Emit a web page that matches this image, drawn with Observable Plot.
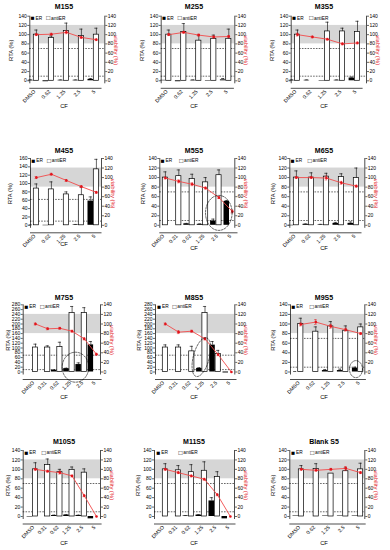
<!DOCTYPE html>
<html>
<head>
<meta charset="utf-8">
<script src="https://cdn.jsdelivr.net/npm/d3@7"></script>
<script src="https://cdn.jsdelivr.net/npm/@observablehq/plot@0.6"></script>
<style>
html,body{margin:0;padding:0;background:#fff;}
#fig{position:relative;width:390px;height:550px;overflow:hidden;background:#fff;}
.cell{position:absolute;width:130px;}
.cell svg{display:block;}
</style>
</head>
<body>
<div id="fig"></div>
<script>
// ---------------- data ----------------
const panelTitles = ["M1S5","M2S5","M3S5","M4S5","M5S5","M6S5","M7S5","M8S5","M9S5","M10S5","M11S5","Blank S5"];
const catsA = ["DMSO","0.62","1.25","2.5","5"];
const catsB = ["DMSO","0.31","0.62","1.25","2.5","5"];
const panelCats = [catsA,catsA,catsA,catsA,catsB,catsA,catsB,catsB,catsA,catsB,catsB,catsA];
const rtaMax = [140,140,140,160,140,140,280,280,140,140,140,140];
const viabilityTicks = [0,20,40,60,80,100,120,140];
const refBand = [80,120];            // viability (%) reference band
const cutoffs = [[70,10],[70,10],[70,10],[62,10],[70,10],[70,10],[70,10],[70,10],[70,10],[70,10],[70,10],[70,10]];

const antiER = [
 [100,93,108,97,100],
 [100,106,87,91,91],
 [100,null,107,107,106],
 [88,86,74,72,134],
 [100,103,97,90,105,null],
 [100,100,102,101,99],
 [102,102,104,246,246,null],
 [102,102,86,246,75,null],
 [100,84,95,86,93],
 [100,109,94,99,93,null],
 [100,98,94,97,84,null],
 [100,101,91,96,100]
];
const antiERErr = [
 [10,4,17,15,14],
 [10,18,12,8,21],
 [10,null,20,7,23],
 [11,18,6,20,24],
 [12,13,10,10,11,null],
 [14,10,7,7,21],
 [14,7,20,27,22,null],
 [11,11,21,27,15,null],
 [12,10,10,10,7],
 [14,13,6,6,8,null],
 [12,10,16,19,11,null],
 [8,11,0,7,13]
];
const ER = [
 [1,-2,1,1,3],
 [1,-2,1,-1,2],
 [1,1,-1,1,6],
 [0,-1,0,1,58],
 [0,0,3,2,9,50],
 [-1,2,1,4,4],
 [0,0,7,14,31,113],
 [0,0,0,15,112,-4],
 [0,0,3,3,8],
 [-1,0,2,3,2,-5],
 [0,0,1,3,33,-5],
 [1,0,1,1,1]
];
const ERErr = [
 [1,1,1,1,2],
 [0,1,1,1,3],
 [1,1,0,1,2],
 [1,0,0,1,10],
 [0,0,1,1,4,2],
 [0,1,1,2,3],
 [0,0,2,2,7,14],
 [0,0,0,3,15,0],
 [1,0,2,3,2],
 [0,0,1,1,1,0],
 [0,0,1,1,7,0],
 [0,0,0,0,0]
];
const viability = [
 [100,101,105,94,89],
 [100,105,99,95,96],
 [100,95,90,80,82],
 [100,107,94,81,69],
 [99,92,86,78,58,29],
 [100,100,99,89,82],
 [100,90,91,85,69,37],
 [100,83,85,69,36,0],
 [99,104,95,88,80],
 [100,96,93,86,44,0],
 [100,93,86,79,46,0],
 [100,98,100,102,93]
];
const viabilityErr = [
 [2,2,3,2,2],
 [2,2,2,2,2],
 [3,2,2,2,2],
 [2,2,2,2,2],
 [2,3,3,2,2,3],
 [2,2,4,3,2],
 [2,2,2,2,2,2],
 [2,3,2,2,2,0],
 [3,5,4,3,2],
 [2,2,3,2,2,0],
 [2,2,2,2,2,0],
 [2,2,2,4,2]
];

// ---------------- layout ----------------
const rowsGeo = [
 {svgTop:0,   top:15.7,  zero:80.3,  title:6.5,   cf:106},
 {svgTop:138, top:158,   zero:224.8, title:150.5, cf:248},
 {svgTop:285, top:304.3, zero:371.5, title:297.7, cf:397},
 {svgTop:430, top:450,   zero:516,   title:441.7, cf:543}
];
const layout = [
 {row:0,col:0,left:29.3, right:104.3,off:4,  s:15,  leg:[3,18.5], rta:-19},
 {row:0,col:1,left:160.7,right:234.3,off:5,  s:15,  leg:[3,18.5], rta:-19},
 {row:0,col:2,left:290.7,right:366,  off:3.7,s:15,  leg:[3,20],   rta:-19},
 {row:1,col:0,left:30,   right:101,  off:3.3,s:15,  leg:[3,18.5], rta:-20, cf:244},
 {row:1,col:1,left:159.3,right:234.3,off:3,  s:13.4,leg:[3,21.5], rta:-17},
 {row:1,col:2,left:289.3,right:364.3,off:4,  s:15,  leg:[3,20],   rta:-17},
 {row:2,col:0,left:22.7, right:100,  off:9.7,s:12.2,leg:[3.3,19],  rta:-15.5},
 {row:2,col:1,left:155,  right:234.3,off:7.3,s:13.2,leg:[3.7,19],  rta:-16.7},
 {row:2,col:2,left:290,  right:364.3,off:7.7,s:15,  leg:[3,21.3], rta:-17},
 {row:3,col:0,left:22.7, right:100,  off:9.7,s:12.2,leg:[3.3,20.6],rta:-15.5},
 {row:3,col:1,left:154,  right:234,  off:8.3,s:13,  leg:[4,26],   rta:-16},
 {row:3,col:2,left:289.3,right:364.3,off:9,  s:14.8,leg:[3.4,22.5],rta:-17}
];
// dashed ellipse annotations (center in category index / RTA units, radii in px)
const circled = [
 {panel:4, x:4.18, y:26, rx:13.3, ry:17.5, angle:0},
 {panel:6, x:3.49, y:20, rx:13.3, ry:15,   angle:0},
 {panel:7, x:2.92, y:62, rx:8,    ry:20,   angle:15},
 {panel:8, x:3.85, y:6,  rx:6.5,  ry:8.5,  angle:0}
];

const RED_LINE = "#f24b4b", RED_PT = "#e3141b", GREY = "#d6d6d6";
const FONT = "'Liberation Sans', Arial, Helvetica, sans-serif";

function ellipsePts(e, s, u) {
  const pts = [], a = e.angle*Math.PI/180;
  for (let t = 0; t <= 360; t += 6) {
    const r = t*Math.PI/180;
    const ex = e.rx*Math.cos(r), ey = e.ry*Math.sin(r);
    const X = ex*Math.cos(a) - ey*Math.sin(a), Y = ex*Math.sin(a) + ey*Math.cos(a);
    pts.push({x: e.x + X/s, y: e.y - Y*u});
  }
  return pts;
}

function panel(p) {
  const L = layout[p], R = rowsGeo[L.row];
  const cats = panelCats[p], n = cats.length;
  const yMax = rtaMax[p], k = yMax/140;
  const H = R.zero - R.top, u = yMax/H;
  const xAxisY = R.zero + 7.5, yMin = -7.5*u;
  const px = L.col*130;
  const cfY = L.cf ?? R.cf;
  const svgH = R.cf + 6 - R.svgTop;
  const mL = L.left - px, mR = px + 130 - L.right;
  const mT = R.top - R.svgTop, mB = svgH - (xAxisY - R.svgTop);
  const xmin = -L.off/L.s, xmax = (L.right - L.left - L.off)/L.s;
  const wE = 5.5/L.s, wA = 5.2/L.s, g = 0.3/L.s, cap = 1.6/L.s;
  const rta = d3.range(0, yMax+1, 20);
  const data = cats.map((c,i)=>({i, cat:c, er:ER[p][i], erErr:ERErr[p][i], anti:antiER[p][i], antiErr:antiERErr[p][i], via:viability[p][i], viaErr:viabilityErr[p][i]}));
  const antiD = data.filter(d=>d.anti!=null);
  const antiE = antiD.filter(d=>d.antiErr>0);
  const erD = data.filter(d=>d.er!=null);
  const erE = erD.filter(d=>d.erErr>0 && d.er>=0);
  const viaD = data.filter(d=>d.via!=null);
  const viaE = viaD.filter(d=>d.viaErr>0);
  const ax = d=>d.i + wA/2;
  const marks = [
    Plot.rect([refBand], {x1:()=>xmin, x2:()=>xmax, y1:d=>d[0]*k, y2:d=>d[1]*k, fill:GREY}),
    Plot.ruleY(cutoffs[p], {stroke:"#000", strokeWidth:0.6, strokeDasharray:"1.6,1.2"}),
    Plot.rect(erD, {x1:d=>d.i-g-wE, x2:d=>d.i-g, y1:()=>0, y2:d=>d.er, fill:"#000"}),
    Plot.rect(antiD, {x1:d=>d.i, x2:d=>d.i+wA, y1:()=>0, y2:d=>d.anti, fill:"#fff", stroke:"#000", strokeWidth:0.7}),
    Plot.ruleX(antiE, {x:ax, y1:d=>d.anti, y2:d=>d.anti+d.antiErr, stroke:"#000", strokeWidth:0.6}),
    Plot.ruleY(antiE, {y:d=>d.anti+d.antiErr, x1:d=>ax(d)-cap, x2:d=>ax(d)+cap, stroke:"#000", strokeWidth:0.6}),
    Plot.ruleX(erE, {x:d=>d.i-g-wE/2, y1:d=>d.er, y2:d=>d.er+d.erErr, stroke:"#000", strokeWidth:0.6}),
    Plot.ruleY(erE, {y:d=>d.er+d.erErr, x1:d=>d.i-g-wE/2-cap, x2:d=>d.i-g-wE/2+cap, stroke:"#000", strokeWidth:0.6}),
    Plot.line(viaD, {x:ax, y:d=>d.via*k, stroke:RED_LINE, strokeWidth:0.9}),
    Plot.ruleX(viaE, {x:ax, y1:d=>(d.via-d.viaErr)*k, y2:d=>(d.via+d.viaErr)*k, stroke:RED_PT, strokeWidth:0.6}),
    Plot.ruleY(viaE, {y:d=>(d.via+d.viaErr)*k, x1:d=>ax(d)-cap*0.8, x2:d=>ax(d)+cap*0.8, stroke:RED_PT, strokeWidth:0.5}),
    Plot.ruleY(viaE, {y:d=>(d.via-d.viaErr)*k, x1:d=>ax(d)-cap*0.8, x2:d=>ax(d)+cap*0.8, stroke:RED_PT, strokeWidth:0.5}),
    Plot.dot(viaD, {x:ax, y:d=>d.via*k, r:1.3, fill:RED_PT, stroke:"none"}),
    // axis lines
    Plot.ruleX([xmin], {y1:()=>-3*u, y2:()=>yMax, stroke:"#000", strokeWidth:0.7}),
    Plot.ruleX([xmax], {y1:()=>-3*u, y2:()=>yMax, stroke:"#000", strokeWidth:0.7}),
    Plot.ruleY([yMin], {x1:()=>xmin, x2:()=>n-1+wA+3/L.s, stroke:"#000", strokeWidth:0.7}),
    Plot.axisY(rta, {anchor:"left", tickSize:2, tickPadding:1, label:null, fontSize:5, strokeWidth:0.6}),
    Plot.axisY(viabilityTicks.map(v=>v*k), {anchor:"right", tickFormat:d=>String(Math.round(d/k)), tickSize:2, tickPadding:1, label:null, fontSize:5, strokeWidth:0.6}),
    Plot.axisX(d3.range(n).map(i=>i+0.05), {tickFormat:d=>cats[Math.round(d)], tickRotate:-45, tickSize:0, tickPadding:2.5, label:null, fontSize:5.2}),
    // texts
    Plot.text([panelTitles[p]], {frameAnchor:"top-left", text:d=>d, dx:63.5-mL, dy:R.title-R.top, textAnchor:"middle", lineAnchor:"middle", fontWeight:"bold", fontSize:7}),
    Plot.text(["\u25A0"], {frameAnchor:"top-left", text:d=>d, dx:L.leg[0], dy:2, textAnchor:"middle", lineAnchor:"middle", fontSize:6.5}),
    Plot.text(["ER"], {frameAnchor:"top-left", text:d=>d, dx:L.leg[0]+2.8, dy:2, textAnchor:"start", lineAnchor:"middle", fontSize:4.8}),
    Plot.text(["\u25A1"], {frameAnchor:"top-left", text:d=>d, dx:L.leg[1], dy:2, textAnchor:"middle", lineAnchor:"middle", fontSize:6.5}),
    Plot.text(["antiER"], {frameAnchor:"top-left", text:d=>d, dx:L.leg[1]+2.8, dy:2, textAnchor:"start", lineAnchor:"middle", fontSize:4.8}),
    Plot.text(["RTA (%)"], {frameAnchor:"left", text:d=>d, dx:L.rta, dy:-2, rotate:-90, textAnchor:"middle", lineAnchor:"middle", fontSize:5.8}),
    Plot.text(["viability (%)"], {frameAnchor:"right", text:d=>d, dx:11, dy:-2, rotate:90, textAnchor:"middle", lineAnchor:"middle", fontSize:5.8, fill:RED_PT}),
    Plot.text(["CF"], {frameAnchor:"top-left", text:d=>d, dx:63.5-mL, dy:cfY-R.top, textAnchor:"middle", lineAnchor:"middle", fontSize:5.8})
  ];
  circled.filter(e=>e.panel===p).forEach(e=>{
    marks.push(Plot.line(ellipsePts(e, L.s, u), {x:"x", y:"y", stroke:"#000", strokeWidth:0.6, strokeDasharray:"2,1.3"}));
  });
  const chart = Plot.plot({
    width:130, height:svgH,
    marginLeft:mL, marginRight:mR, marginTop:mT, marginBottom:mB,
    x:{type:"linear", domain:[xmin,xmax]},
    y:{type:"linear", domain:[yMin,yMax]},
    style:{fontFamily:FONT, fontSize:"5px", background:"transparent", overflow:"visible", color:"#000"},
    marks
  });
  const div = document.createElement("div");
  div.className = "cell";
  div.style.left = px + "px";
  div.style.top = R.svgTop + "px";
  div.appendChild(chart);
  document.getElementById("fig").appendChild(div);
}
for (let p = 0; p < 12; p++) panel(p);
</script>
</body>
</html>
